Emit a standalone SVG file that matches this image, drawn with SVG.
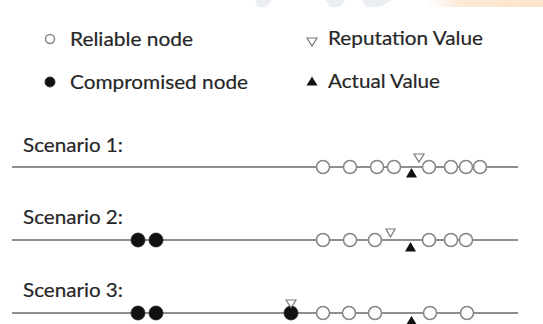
<svg xmlns="http://www.w3.org/2000/svg" width="543" height="324" viewBox="0 0 543 324">
<defs>
<style>
.t{font-family:Lato,"Liberation Sans",sans-serif;font-size:20px;fill:#262626;stroke:#262626;stroke-width:0.2;}
.ln{stroke:#8f8f8f;stroke-width:1.8;fill:none;}
.rn{fill:#fff;stroke:#858585;stroke-width:1.5;}
.cn{fill:#111;stroke:#222;stroke-width:0.8;}
.rv{fill:#fff;stroke:#7a7a7a;stroke-width:1.2;}
.av{fill:#111;}
</style>
<linearGradient id="og" x1="0" y1="0" x2="1" y2="0">
<stop offset="0" stop-color="#fbe7d2" stop-opacity="0"/>
<stop offset="0.3" stop-color="#fbdcbc"/>
<stop offset="1" stop-color="#fbd3a8"/>
</linearGradient>
</defs>
<rect width="543" height="324" fill="#fff"/>
<g id="watermark" opacity="0.6">
<polygon points="255,0 272,0 266,7 258,7" fill="#dfe4ea"/>
<polygon points="325,0 345,0 340,7 330,7" fill="#dfe4ea"/>
<polygon points="362,0 392,0 380,7 366,7" fill="#dfe4ea"/>
<rect x="425" y="0" width="118" height="7" fill="url(#og)"/>
</g>
<g id="legend">
<g id="legend-reliable"><circle class="rn" cx="50" cy="39" r="4.5"/><text class="t" x="70" y="46" textLength="123" lengthAdjust="spacingAndGlyphs">Reliable node</text></g>
<g id="legend-compromised"><circle class="cn" cx="50" cy="82" r="5"/><text class="t" x="70" y="89" textLength="178" lengthAdjust="spacingAndGlyphs">Compromised node</text></g>
<g id="legend-reputation"><polygon class="rv" points="307,38 317,38 312,46"/><text class="t" x="328" y="45" textLength="155" lengthAdjust="spacingAndGlyphs">Reputation Value</text></g>
<g id="legend-actual"><polygon class="av" points="306.5,85.5 317.5,85.5 312,76.5"/><text class="t" x="328" y="88" textLength="112" lengthAdjust="spacingAndGlyphs">Actual Value</text></g>
</g>
<g id="connectors">
<line class="ln" x1="12" y1="167" x2="518" y2="167"/>
<line class="ln" x1="12" y1="240" x2="518" y2="240"/>
<line class="ln" x1="12" y1="313" x2="518" y2="313"/>
</g>
<g id="scenario1">
<text class="t" x="23" y="152" textLength="100" lengthAdjust="spacingAndGlyphs">Scenario 1:</text>
<circle class="rn" cx="323" cy="167" r="6.5"/>
<circle class="rn" cx="350" cy="167" r="6.5"/>
<circle class="rn" cx="377" cy="167" r="6.5"/>
<circle class="rn" cx="394" cy="167" r="6.5"/>
<circle class="rn" cx="429" cy="167" r="6.5"/>
<circle class="rn" cx="451" cy="167" r="6.5"/>
<circle class="rn" cx="466" cy="167" r="6.5"/>
<circle class="rn" cx="480" cy="167" r="6.5"/>
<polygon class="av" points="406,177.5 417,177.5 411.5,168"/>
<polygon class="rv" points="414,154 424,154 419,162"/>
</g>
<g id="scenario2">
<text class="t" x="23" y="224" textLength="100" lengthAdjust="spacingAndGlyphs">Scenario 2:</text>
<circle class="cn" cx="138" cy="240" r="7"/>
<circle class="cn" cx="156" cy="240" r="7"/>
<circle class="rn" cx="323" cy="240" r="6.5"/>
<circle class="rn" cx="350" cy="240" r="6.5"/>
<circle class="rn" cx="375" cy="240" r="6.5"/>
<circle class="rn" cx="429" cy="240" r="6.5"/>
<circle class="rn" cx="451" cy="240" r="6.5"/>
<circle class="rn" cx="466" cy="240" r="6.5"/>
<polygon class="rv" points="386,229 395,229 390.5,237"/>
<polygon class="av" points="405,251.5 416,251.5 410.5,242"/>
</g>
<g id="scenario3">
<text class="t" x="23" y="297" textLength="100" lengthAdjust="spacingAndGlyphs">Scenario 3:</text>
<circle class="cn" cx="138" cy="313" r="7"/>
<circle class="cn" cx="156" cy="313" r="7"/>
<circle class="cn" cx="291" cy="313" r="7"/>
<polygon class="rv" points="286,300 296,300 291,307.5"/>
<circle class="rn" cx="323" cy="313" r="6.5"/>
<circle class="rn" cx="349" cy="313" r="6.5"/>
<circle class="rn" cx="375" cy="313" r="6.5"/>
<circle class="rn" cx="430" cy="313" r="6.5"/>
<circle class="rn" cx="467" cy="313" r="6.5"/>
<polygon class="av" points="406,325 417,325 411.5,316"/>
</g>
</svg>
